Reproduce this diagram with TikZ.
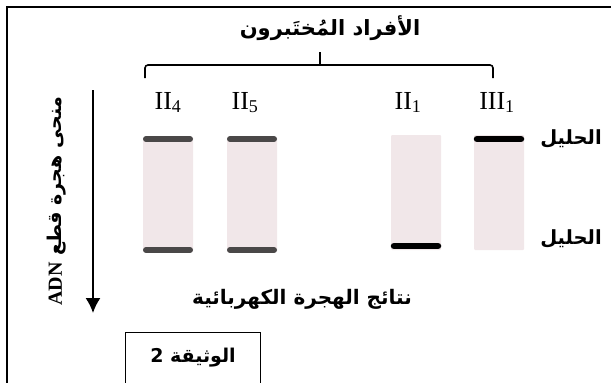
\documentclass[tikz,border=0pt]{standalone}
\usepackage{fontspec}
\usetikzlibrary{arrows.meta}
\setmainfont{Liberation Serif}
\newfontfamily\arabicfont[Script=Arabic]{DejaVu Sans}
\TeXXeTstate=1
\definecolor{lanefill}{HTML}{F1E7E9}
\definecolor{banddark}{HTML}{4A4848}
\begin{document}
\begin{tikzpicture}[x=1pt,y=-1pt,
  lane/.style={fill=lanefill,draw=none,rounded corners=1pt},
  bandg/.style={line width=6pt,line cap=round,draw=banddark},
  bandk/.style={line width=6.5pt,line cap=round,draw=black},
  arlab/.style={font=\arabicfont\bfseries\fontsize{19.5}{22}\selectfont,inner sep=0pt},
  numlab/.style={font=\fontsize{26}{28}\selectfont,inner sep=0pt,anchor=base}]
\useasboundingbox (0,0) rectangle (611,383);
\begin{scope}
\clip (0,0) rectangle (611,383);
% outer frame (cut at right and bottom)
\draw[line width=1.6pt] (7,400) -- (7,7) -- (640,7);
% title
\node[arlab,font=\arabicfont\bfseries\fontsize{21}{24}\selectfont] (title) at (330,28) {\beginR الأفراد المُختَبرون\endR};
% brace
\coordinate (bl) at (145,78);
\coordinate (br) at (493,78);
\coordinate (bm) at (320,52);
\draw[line width=1.6pt,rounded corners=3pt] (bl) -- (145,65) -- (320,65) -- (493,65) -- (br);
\draw[line width=1.6pt] (bm) -- (320,65);
% column labels
\node[numlab] (l1) at (168,109) {II\textsubscript{\fontsize{18}{20}\selectfont 4}};
\node[numlab] (l2) at (245,109) {II\textsubscript{\fontsize{18}{20}\selectfont 5}};
\node[numlab] (l3) at (408,109) {II\textsubscript{\fontsize{18}{20}\selectfont 1}};
\node[numlab] (l4) at (497,109) {III\textsubscript{\fontsize{18}{20}\selectfont 1}};
% lanes
\path[lane] (143,137) rectangle (193,252);
\path[lane] (227,137) rectangle (277,252);
\path[lane] (391,135) rectangle (441,250);
\path[lane] (474,135) rectangle (524,250);
% bands
\draw[bandg] (146,139) -- (190,139);
\draw[bandg] (146,250) -- (190,250);
\draw[bandg] (230,139) -- (274,139);
\draw[bandg] (230,250) -- (274,250);
\draw[bandk] (394,246) -- (438,246);
\draw[bandk] (477,139) -- (521,139);
% allele labels
\node[arlab] (a1) at (571,139) {\beginR الحليل\endR};
\node[arlab] (a2) at (571,239) {\beginR الحليل\endR};
% migration axis
\coordinate (ax1) at (93,90);
\coordinate (ax2) at (93,313);
\draw[line width=1.6pt,-{Latex[length=15pt,width=15pt]}] (ax1) -- (ax2);
\node[arlab,rotate=90,font=\arabicfont\bfseries\fontsize{19}{22}\selectfont] (axl) at (57,201) {\beginR منحى هجرة قطع \beginL{\rmfamily\bfseries\fontsize{20}{22}\selectfont ADN}\endL\endR};
% caption
\node[arlab,font=\arabicfont\bfseries\fontsize{20}{22}\selectfont] (cap) at (302,299) {\beginR نتائج الهجرة الكهربائية\endR};
% document box
\draw[line width=1pt] (125,400) -- (125,332) -- (260,332) -- (260,400);
\node[arlab,font=\arabicfont\bfseries\fontsize{19}{22}\selectfont] (doc) at (193,358) {\beginR الوثيقة \beginL 2\endL\endR};
\end{scope}
\end{tikzpicture}
\end{document}
